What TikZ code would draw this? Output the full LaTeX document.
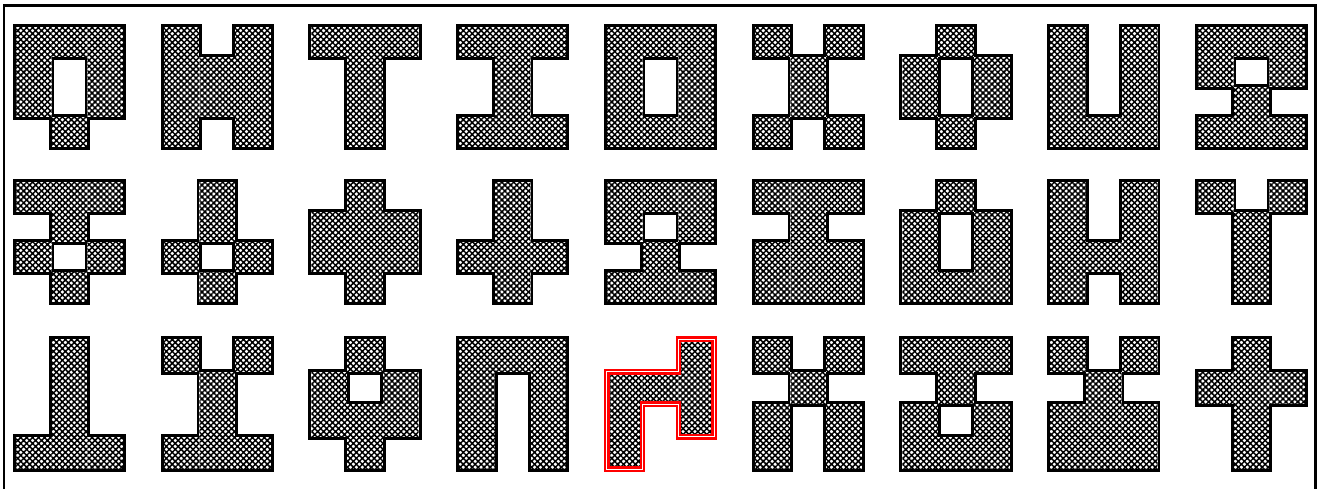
\documentclass[tikz,border=0pt]{standalone}
\usetikzlibrary{patterns.meta}

\tikzset{
  cellrim/.style={draw=black, line width=2.8pt},
  cellfill/.style={fill=white, postaction={pattern={Hatch[angle=45,distance=2.1pt,line width=0.75pt]}}},
  redrim/.style={draw=red, line width=1.1pt, double=white, double distance=0.6pt},
}
\def\cw{35.83}
% \piece[rim]{x}{y}{cell height}{cells as col/row}
\newcommand{\piece}[5][cellrim]{%
  \foreach \cx/\cy in {#5} \draw[#1] ({#2+\cx*\cw},{#3+\cy*#4}) rectangle ++(\cw,#4);
  \foreach \cx/\cy in {#5} \path[cellfill] ({#2+\cx*\cw},{#3+\cy*#4}) rectangle ++(\cw,#4);
}

\begin{document}
\begin{tikzpicture}[x=0.5pt, y=-0.5pt]
  \useasboundingbox (0,0) rectangle (1323,488);
  \clip (0,0) rectangle (1323,488);
  \draw[line width=1.2pt] (4,5.5) rectangle (1315.5,500);

  % first row
  \piece{15.75}{27.25}{29.875}{0/0,1/0,2/0,0/1,2/1,0/2,2/2,1/3}
  \piece{163.5}{27.25}{29.875}{0/0,2/0,0/1,1/1,2/1,0/2,1/2,2/2,0/3,2/3}
  \piece{311.25}{27.25}{29.875}{0/0,1/0,2/0,1/1,1/2,1/3}
  \piece{459}{27.25}{29.875}{0/0,1/0,2/0,1/1,1/2,0/3,1/3,2/3}
  \piece{606.75}{27.25}{29.875}{0/0,1/0,2/0,0/1,2/1,0/2,2/2,0/3,1/3,2/3}
  \piece{754.5}{27.25}{29.875}{0/0,2/0,1/1,1/2,0/3,2/3}
  \piece{902.25}{27.25}{29.875}{1/0,0/1,2/1,0/2,2/2,1/3}
  \piece{1050}{27.25}{29.875}{0/0,2/0,0/1,2/1,0/2,2/2,0/3,1/3,2/3}
  \piece{1197.75}{27.25}{29.875}{0/0,1/0,2/0,0/1,2/1,1/2,0/3,1/3,2/3}

  % second row
  \piece{15.75}{182.25}{29.875}{0/0,1/0,2/0,1/1,0/2,2/2,1/3}
  \piece{163.5}{182.25}{29.875}{1/0,1/1,0/2,2/2,1/3}
  \piece{311.25}{182.25}{29.875}{1/0,0/1,1/1,2/1,0/2,1/2,2/2,1/3}
  \piece{459}{182.25}{29.875}{1/0,1/1,0/2,1/2,2/2,1/3}
  \piece{606.75}{182.25}{29.875}{0/0,1/0,2/0,0/1,2/1,1/2,0/3,1/3,2/3}
  \piece{754.5}{182.25}{29.875}{0/0,1/0,2/0,1/1,0/2,1/2,2/2,0/3,1/3,2/3}
  \piece{902.25}{182.25}{29.875}{1/0,0/1,2/1,0/2,2/2,0/3,1/3,2/3}
  \piece{1050}{182.25}{29.875}{0/0,2/0,0/1,2/1,0/2,1/2,2/2,0/3,2/3}
  \piece{1197.75}{182.25}{29.875}{0/0,2/0,1/1,1/2,1/3}

  % third row
  \piece{15.75}{339.25}{32.5}{1/0,1/1,1/2,0/3,1/3,2/3}
  \piece{163.5}{339.25}{32.5}{0/0,2/0,1/1,1/2,0/3,1/3,2/3}
  \piece{311.25}{339.25}{32.5}{1/0,0/1,2/1,0/2,1/2,2/2,1/3}
  \piece{459}{339.25}{32.5}{0/0,1/0,2/0,0/1,2/1,0/2,2/2,0/3,2/3}
  \piece[draw=none]{606.75}{339.25}{32.5}{2/0,0/1,1/1,2/1,0/2,2/2,0/3}
  \piece{754.5}{339.25}{32.5}{0/0,2/0,1/1,0/2,2/2,0/3,2/3}
  \piece{902.25}{339.25}{32.5}{0/0,1/0,2/0,1/1,0/2,2/2,0/3,1/3,2/3}
  \piece{1050}{339.25}{32.5}{0/0,2/0,1/1,0/2,1/2,2/2,0/3,1/3,2/3}
  \piece{1197.75}{339.25}{32.5}{1/0,0/1,1/1,2/1,1/2,1/3}

  % the marked piece
  \begin{scope}[shift={(606.75,339.25)}, xscale=35.83, yscale=32.5]
    \draw[redrim] (2,0) -- (3,0) -- (3,3) -- (2,3) -- (2,2) -- (1,2)
      -- (1,4) -- (0,4) -- (0,1) -- (2,1) -- cycle;
  \end{scope}
\end{tikzpicture}
\end{document}
